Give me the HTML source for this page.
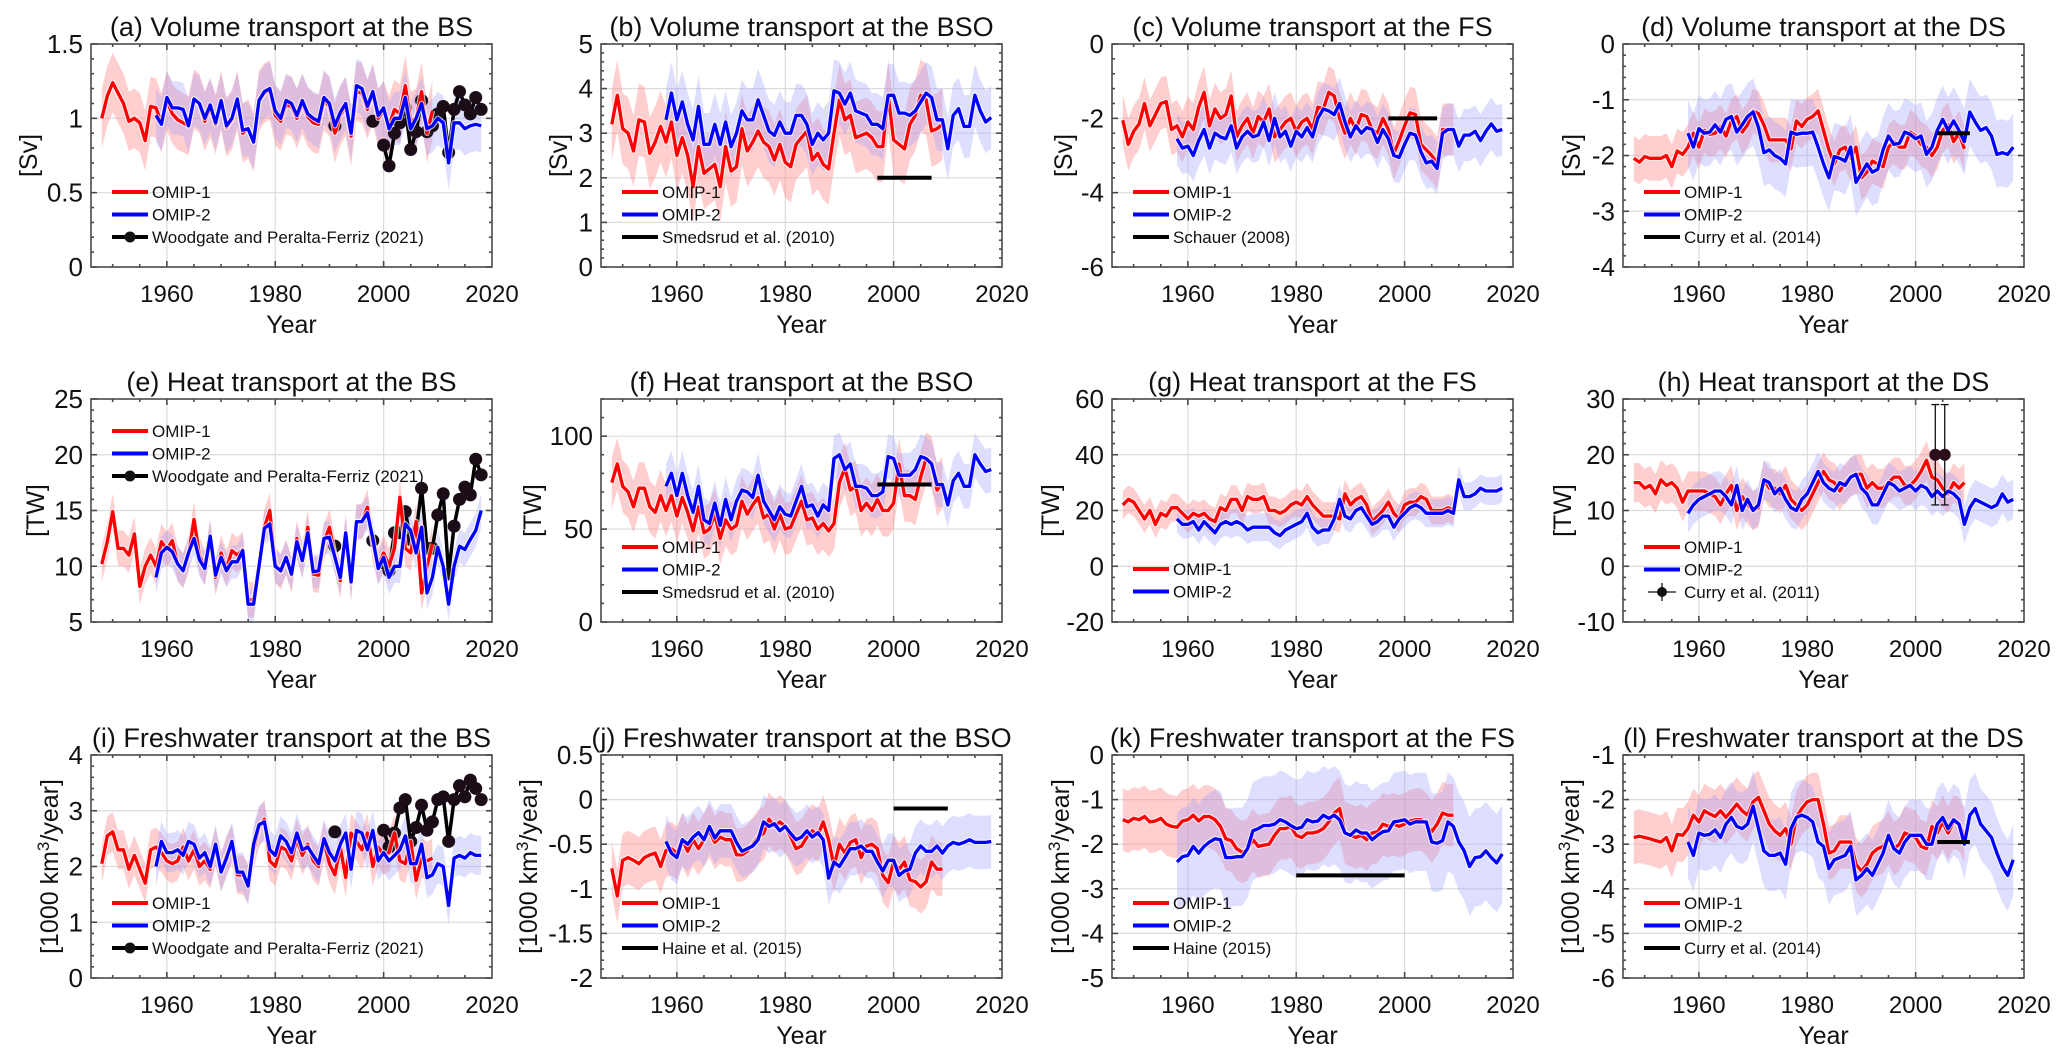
<!DOCTYPE html>
<html><head><meta charset="utf-8"><style>
html,body{margin:0;padding:0;background:#fff;}
svg{display:block;font-family:"Liberation Sans",Arial,sans-serif;}
</style></head><body>
<svg id="fig" width="2067" height="1063" viewBox="0 0 2067 1063" xmlns="http://www.w3.org/2000/svg"></svg>
<script>
// ---------- data ----------
const xTicks = [1960, 1980, 2000, 2020];
const omip1Start = 1948;
const omip2Start = 1958;

const aO1 = [1.0,1.15,1.24,1.17,1.1,0.98,1.0,0.97,0.85,1.08,1.07,0.97,1.12,1.03,0.99,0.97,0.95,1.13,1.1,0.98,1.07,0.96,1.12,0.94,0.99,1.12,0.9,0.93,0.84,1.12,1.17,1.19,1.02,0.98,1.09,1.08,1.0,1.1,1.01,0.97,0.96,1.12,1.08,0.9,1.02,1.08,0.88,1.18,1.17,1.06,1.17,1.0,1.05,0.95,1.06,1.03,1.22,0.98,1.0,1.18,0.9,1.05];
const aO2 = [1.02,0.96,1.14,1.07,1.07,1.06,0.95,1.13,1.1,1.0,1.09,0.97,1.12,0.95,1.0,1.13,0.92,0.93,0.84,1.12,1.18,1.2,1.05,1.0,1.12,1.1,1.02,1.12,1.03,1.0,0.98,1.14,1.1,0.95,1.04,1.1,0.9,1.22,1.2,1.08,1.18,1.02,1.07,0.93,1.0,1.0,1.14,0.93,1.0,1.1,0.93,0.95,1.0,0.97,0.7,0.97,0.97,0.93,0.95,0.96,0.95];
const aObsYears = [1991,1998,2000,2001,2002,2003,2004,2005,2006,2007,2008,2009,2010,2011,2012,2013,2014,2015,2016,2017,2018];
const aObsVals = [0.95,0.98,0.82,0.68,0.9,0.97,1.07,0.79,0.91,1.12,0.91,0.95,1.03,1.08,0.77,1.06,1.18,1.09,1.03,1.14,1.06];
const aTicks = [0, 0.5, 1, 1.5];

const bO1 = [3.2,3.85,3.1,3.0,2.6,3.3,3.25,2.55,2.8,3.15,2.8,3.25,2.5,2.9,2.5,1.8,2.7,2.1,2.2,2.3,1.8,2.7,2.15,2.25,3.1,2.6,2.8,3.05,2.8,2.7,2.4,2.75,2.35,2.25,2.75,2.9,3.05,2.4,2.55,2.3,2.2,3.0,3.75,3.3,3.4,2.9,2.95,3.0,2.9,2.7,2.7,3.85,2.85,2.75,2.65,3.2,3.4,3.85,3.75,3.05,3.1,3.2];
const bO2 = [3.3,3.9,3.3,3.7,3.2,2.85,3.6,2.75,2.75,3.2,2.75,3.25,2.7,3.0,3.5,3.3,3.3,3.75,3.4,3.05,2.95,3.25,3.0,3.0,3.4,3.4,3.2,2.75,3.0,2.85,3.0,3.95,3.9,3.65,3.9,3.5,3.45,3.4,3.2,3.2,3.1,3.85,3.85,3.45,3.45,3.4,3.5,3.7,3.9,3.8,3.3,3.3,2.65,3.4,3.55,3.15,3.15,3.85,3.5,3.25,3.35];
const bObsSpan = [1997, 2007]; const bObsVal = 2.0;
const bTicks = [0, 1, 2, 3, 4, 5];

const cO1 = [-2.05,-2.7,-2.35,-2.15,-1.6,-2.2,-1.9,-1.6,-1.55,-2.3,-2.2,-2.5,-2.1,-2.3,-1.7,-1.3,-2.2,-1.75,-2.0,-1.9,-1.4,-2.5,-2.2,-2.0,-2.4,-1.95,-2.1,-1.75,-2.5,-2.3,-2.1,-2.0,-2.35,-2.1,-2.0,-2.3,-1.7,-1.75,-1.3,-1.4,-2.0,-2.4,-2.0,-2.3,-1.9,-1.95,-2.3,-2.4,-2.0,-2.3,-2.95,-2.6,-2.2,-1.85,-1.9,-2.7,-2.85,-3.0,-3.2,-2.3,-2.3,-2.3];
const cO2 = [-2.55,-2.8,-2.75,-3.0,-2.6,-2.3,-2.8,-2.4,-2.5,-2.55,-2.2,-2.8,-2.5,-2.35,-2.5,-2.45,-2.1,-2.6,-2.0,-2.5,-2.35,-2.75,-2.35,-2.5,-2.25,-2.5,-2.0,-1.75,-1.8,-1.9,-1.6,-2.1,-2.5,-2.2,-2.4,-2.25,-2.3,-2.65,-2.3,-2.55,-3.0,-3.05,-2.7,-2.4,-2.45,-2.9,-3.2,-3.15,-3.35,-2.4,-2.3,-2.3,-2.75,-2.45,-2.45,-2.35,-2.6,-2.35,-2.15,-2.35,-2.3];
const cObsSpan = [1997, 2006]; const cObsVal = -2.0;
const cTicks = [-6, -4, -2, 0];

const dO1 = [-2.05,-2.12,-2.02,-2.05,-2.05,-2.05,-2.0,-2.2,-1.92,-1.98,-1.85,-1.6,-1.85,-1.55,-1.62,-1.6,-1.48,-1.65,-1.38,-1.3,-1.58,-1.45,-1.2,-1.25,-1.45,-1.72,-1.72,-1.72,-1.72,-1.88,-1.38,-1.48,-1.35,-1.3,-1.2,-1.55,-1.9,-2.15,-1.9,-1.85,-2.05,-1.85,-2.4,-2.3,-2.1,-2.15,-2.2,-1.85,-1.75,-1.85,-1.85,-1.58,-1.65,-1.8,-1.85,-2.0,-1.85,-1.55,-1.45,-1.75,-1.6,-1.88];
const dO2 = [-1.6,-1.85,-1.52,-1.6,-1.58,-1.45,-1.58,-1.35,-1.3,-1.58,-1.45,-1.3,-1.22,-1.5,-1.95,-1.9,-2.0,-2.05,-2.15,-1.58,-1.62,-1.6,-1.6,-1.58,-1.85,-2.15,-2.4,-2.02,-2.05,-2.1,-1.85,-2.48,-2.32,-2.15,-2.3,-2.25,-1.9,-1.65,-1.8,-1.78,-1.58,-1.62,-1.7,-1.65,-1.98,-1.85,-1.55,-1.35,-1.55,-1.38,-1.55,-1.75,-1.22,-1.4,-1.55,-1.5,-1.65,-1.98,-1.95,-1.98,-1.85];
const dObsSpan = [2004, 2010]; const dObsVal = -1.6;
const dTicks = [-4, -3, -2, -1, 0];

const eO1 = [10.2,12.2,14.9,11.6,11.6,11.0,12.9,8.2,10.0,11.0,10.0,12.2,11.5,12.3,10.2,9.6,11.0,14.2,11.0,9.9,12.4,9.0,11.2,9.8,11.4,11.0,11.5,7.0,7.0,10.0,13.5,15.0,10.2,9.5,10.8,9.2,12.5,10.5,13.5,9.3,9.2,12.2,13.5,11.0,8.7,13.0,8.5,14.0,14.0,15.3,12.0,10.0,11.2,10.0,11.6,16.2,11.6,11.2,14.0,7.6,10.0,12.0];
const eO2 = [9.0,11.2,11.7,11.3,10.2,9.6,11.2,12.5,10.6,9.8,12.7,9.2,10.8,9.6,10.4,10.4,11.4,6.6,6.6,10.0,13.4,13.8,10.0,9.6,10.8,9.3,12.2,10.5,13.0,9.5,9.6,12.5,12.6,10.8,9.0,13.0,8.6,14.0,14.0,14.8,12.5,9.8,10.8,9.0,10.0,10.0,13.8,13.2,11.2,13.5,7.6,9.0,11.7,10.0,6.6,10.0,11.8,11.5,12.4,13.2,15.0];
const eObsYears = [1991,1998,2000,2001,2002,2003,2004,2005,2006,2007,2008,2009,2010,2011,2012,2013,2014,2015,2016,2017,2018];
const eObsVals = [11.8,12.3,10.3,9.6,13.0,13.0,14.9,12.4,13.0,17.0,11.6,11.6,14.6,16.5,9.3,13.6,16.0,17.1,16.4,19.6,18.2];
const eTicks = [5, 10, 15, 20, 25];

const fO1 = [75,85,73,70,62,72,72,62,59,68,60,68,57,67,59,49,62,48,50,58,45,55,50,52,65,58,63,67,56,58,50,58,50,51,58,65,55,56,50,53,49,53,75,83,71,73,60,64,60,66,60,60,64,85,68,68,66,78,88,86,71,75];
const fO2 = [73,80,68,80,68,59,73,55,53,64,52,66,55,65,71,70,67,79,65,60,55,62,58,57,65,73,62,63,57,63,60,88,90,82,85,73,73,72,68,68,70,89,88,79,79,79,82,89,88,85,74,74,63,76,80,73,73,90,85,81,82];
const fObsSpan = [1997, 2007]; const fObsVal = 74;
const fTicks = [0, 50, 100];

const gO1 = [22,24,23,20,17,20,15,19,18,21,21,19,17,19,18,19,17,16,21,20,24,24,20,25,24,24,25,20,20,19,20,22,23,22,25,22,20,18,18,18,17,26,22,24,25,22,16,18,20,23,19,17,22,23,23,25,24,20,20,20,21,20];
const gO2 = [17,15,15,16,13,16,14,12,15,16,15,16,15,13,14,14,14,14,12,11,13,14,15,16,19,14,12,13,13,17,24,18,17,20,21,18,15,16,18,18,14,17,19,21,22,21,19,19,19,19,20,19,31,25,25,26,28,27,27,27,28];
const gTicks = [-20, 0, 20, 40, 60];

const hO1 = [15,15,14,14.5,13,15.5,14.5,15,14,11.5,13.5,13.5,13.5,13.5,13,12.5,11,13,14.5,10,12.5,11,10,10.5,15.5,14,14,13,14.5,12,11,10,11,13,15,17,15.5,15,13.5,15,16,16.5,16.5,14,15,14,14,15,16,16,14.5,14.5,15.5,17,19,16,15.5,14,13,15,14,15];
const hO2 = [9.5,11,12,12.5,13,13.5,13.5,12.5,11,14.5,10,12,10,11,15.5,15,13,14,12,10.5,10,12,13,15,17,15,14,13.5,15,14.5,16,16.5,14,13,11,11,13,15,14.5,13.5,14,14.5,13.5,14.5,14,12.5,13.5,12.5,13.5,13,12,7.5,10.5,12,11.5,11,10.5,11,13,11.5,12];
const hObsYears = [2004, 2005];
const hObsVals = [20, 20];
const hObsErr = [9, 9];
const hTicks = [-10, 0, 10, 20, 30];

const iO1 = [2.05,2.55,2.62,2.3,2.3,1.95,2.2,1.95,1.7,2.3,2.35,2.25,2.1,2.05,2.1,2.35,2.1,2.3,2.0,2.1,1.95,2.35,1.9,2.2,2.4,1.85,1.85,1.7,2.3,2.7,2.85,2.1,2.0,2.35,2.3,2.1,2.5,2.2,2.4,2.1,2.0,2.45,2.05,1.85,2.35,1.8,2.6,2.45,2.3,2.6,2.0,2.35,2.2,2.25,2.6,2.1,2.05,2.45,1.75,2.15,2.1,2.15];
const iO2 = [2.0,2.45,2.25,2.25,2.3,2.2,2.45,2.4,2.15,2.25,2.0,2.4,1.9,2.15,2.45,1.9,1.9,1.65,2.4,2.75,2.8,2.3,2.2,2.55,2.45,2.25,2.6,2.3,2.35,2.2,2.05,2.5,2.25,2.1,2.4,2.6,1.95,2.65,2.6,2.3,2.65,2.1,2.25,2.1,2.2,2.3,2.55,2.05,2.05,2.4,1.8,1.85,2.05,2.0,1.3,2.15,2.2,2.15,2.25,2.2,2.2];
const iObsYears = [1991,2000,2001,2002,2003,2004,2005,2006,2007,2008,2009,2010,2011,2012,2013,2014,2015,2016,2017,2018];
const iObsVals = [2.62,2.65,2.35,2.6,3.05,3.2,2.45,2.7,3.1,2.65,2.8,3.2,3.25,2.45,3.2,3.45,3.25,3.55,3.4,3.2];
const iTicks = [0, 1, 2, 3, 4];

const jO1 = [-0.77,-1.08,-0.68,-0.65,-0.68,-0.72,-0.65,-0.62,-0.6,-0.75,-0.57,-0.55,-0.6,-0.45,-0.58,-0.45,-0.55,-0.45,-0.35,-0.48,-0.42,-0.45,-0.45,-0.62,-0.62,-0.58,-0.5,-0.42,-0.38,-0.22,-0.3,-0.25,-0.3,-0.42,-0.55,-0.52,-0.42,-0.35,-0.4,-0.25,-0.45,-0.75,-0.5,-0.6,-0.48,-0.45,-0.65,-0.52,-0.5,-0.55,-0.85,-0.93,-0.7,-0.78,-0.7,-0.9,-0.92,-0.98,-0.92,-0.7,-0.78,-0.78];
const jO2 = [-0.47,-0.6,-0.65,-0.45,-0.5,-0.42,-0.37,-0.45,-0.3,-0.43,-0.35,-0.35,-0.35,-0.48,-0.58,-0.55,-0.52,-0.45,-0.25,-0.3,-0.27,-0.35,-0.3,-0.38,-0.45,-0.42,-0.35,-0.42,-0.37,-0.45,-0.88,-0.7,-0.75,-0.65,-0.55,-0.55,-0.52,-0.58,-0.58,-0.7,-0.8,-0.68,-0.68,-0.85,-0.8,-0.78,-0.6,-0.52,-0.58,-0.58,-0.52,-0.6,-0.52,-0.48,-0.5,-0.48,-0.45,-0.48,-0.48,-0.48,-0.47];
const jObsSpan = [2000, 2010]; const jObsVal = -0.1;
const jTicks = [-2, -1.5, -1, -0.5, 0, 0.5];

const kO1 = [-1.45,-1.5,-1.42,-1.45,-1.38,-1.5,-1.48,-1.42,-1.55,-1.6,-1.62,-1.48,-1.45,-1.35,-1.48,-1.38,-1.38,-1.45,-1.6,-1.88,-1.92,-2.1,-2.18,-2.12,-1.9,-2.05,-2.02,-2.0,-1.8,-1.65,-1.65,-1.6,-1.8,-1.85,-1.75,-1.75,-1.72,-1.65,-1.5,-1.3,-1.2,-1.75,-1.8,-1.85,-1.8,-1.9,-1.75,-1.72,-1.55,-1.6,-1.55,-1.6,-1.55,-1.48,-1.45,-1.45,-1.55,-1.72,-1.55,-1.3,-1.35,-1.35];
const kO2 = [-2.4,-2.28,-2.25,-2.05,-2.2,-2.05,-1.95,-1.88,-1.9,-2.3,-2.3,-2.28,-2.28,-2.1,-1.7,-1.65,-1.58,-1.58,-1.55,-1.45,-1.5,-1.58,-1.65,-1.62,-1.45,-1.5,-1.48,-1.35,-1.42,-1.35,-1.45,-1.75,-1.8,-1.68,-1.75,-1.75,-1.9,-1.8,-1.72,-1.7,-1.5,-1.48,-1.45,-1.55,-1.5,-1.5,-1.5,-1.95,-1.98,-1.92,-1.5,-1.6,-1.95,-2.15,-2.5,-2.3,-2.28,-2.15,-2.3,-2.42,-2.22];
const kObsSpan = [1980, 2000]; const kObsVal = -2.7;
const kTicks = [-5, -4, -3, -2, -1, 0];

const lO1 = [-2.85,-2.82,-2.85,-2.88,-2.92,-2.95,-2.85,-3.15,-2.78,-2.8,-2.65,-2.35,-2.5,-2.25,-2.32,-2.38,-2.25,-2.4,-2.25,-2.1,-2.25,-2.35,-2.05,-1.95,-2.25,-2.55,-2.7,-2.8,-2.65,-3.0,-2.4,-2.2,-2.05,-2.0,-2.0,-2.55,-3.2,-3.15,-2.95,-2.95,-2.95,-3.45,-3.6,-3.45,-3.2,-3.1,-3.05,-2.85,-3.1,-3.0,-2.75,-2.8,-2.85,-3.05,-3.1,-2.6,-2.75,-2.5,-2.75,-2.5,-2.55,-2.8];
const lO2 = [-2.95,-3.25,-2.75,-2.8,-2.78,-2.68,-2.85,-2.55,-2.4,-2.6,-2.65,-2.55,-2.15,-2.65,-3.15,-3.25,-3.25,-3.2,-3.45,-2.65,-2.4,-2.35,-2.4,-2.5,-2.95,-3.05,-3.55,-3.35,-3.3,-3.25,-3.05,-3.8,-3.7,-3.55,-3.7,-3.45,-3.2,-2.8,-3.1,-3.2,-2.95,-2.8,-2.8,-2.8,-3.0,-3.0,-2.55,-2.4,-2.65,-2.45,-2.55,-3.0,-2.35,-2.2,-2.55,-2.7,-2.85,-3.2,-3.5,-3.7,-3.35];
const lObsSpan = [2004, 2010]; const lObsVal = -2.95;
const lTicks = [-6, -5, -4, -3, -2, -1];

// ensemble spread (half-width) per panel: [OMIP-1, OMIP-2]
const spreadA = [0.2, 0.18], spreadB = [0.8, 0.7], spreadC = [0.7, 0.7], spreadD = [0.4, 0.6];
const spreadE = [1.6, 1.5], spreadF = [14, 12], spreadG = [5, 5], spreadH = [3.5, 3.5];
const spreadI = [0.35, 0.35], spreadJ = [0.3, 0.3], spreadK = [0.7, 1.1], spreadL = [0.6, 0.8];

// ---------- layout ----------
const NS = "http://www.w3.org/2000/svg";
const svg = document.getElementById('fig');
const colL = [91, 601, 1112, 1623], rowT = [44, 399, 755];
const PW = 401, PH = 223, XMIN = 1946, XMAX = 2020;
const FW = ['[1000 km', '3', '/year]'];

const panels = [
 {k:'a',title:'(a) Volume transport at the BS',c:0,r:0,t:aTicks,o1:aO1,o2:aO2,sp:spreadA,yl:'[Sv]',yo:62,leg:148,obs:{type:'pts',yrs:aObsYears,v:aObsVals,label:'Woodgate and Peralta-Ferriz (2021)'}},
 {k:'b',title:'(b) Volume transport at the BSO',c:1,r:0,t:bTicks,o1:bO1,o2:bO2,sp:spreadB,yl:'[Sv]',yo:42,leg:148,obs:{type:'span',span:bObsSpan,v:bObsVal,label:'Smedsrud et al. (2010)'}},
 {k:'c',title:'(c) Volume transport at the FS',c:2,r:0,t:cTicks,o1:cO1,o2:cO2,sp:spreadC,yl:'[Sv]',yo:48,leg:148,obs:{type:'span',span:cObsSpan,v:cObsVal,label:'Schauer (2008)'}},
 {k:'d',title:'(d) Volume transport at the DS',c:3,r:0,t:dTicks,o1:dO1,o2:dO2,sp:spreadD,yl:'[Sv]',yo:51,leg:148,obs:{type:'span',span:dObsSpan,v:dObsVal,label:'Curry et al. (2014)'}},
 {k:'e',title:'(e) Heat transport at the BS',c:0,r:1,t:eTicks,o1:eO1,o2:eO2,sp:spreadE,yl:'[TW]',yo:55,leg:32,obs:{type:'pts',yrs:eObsYears,v:eObsVals,label:'Woodgate and Peralta-Ferriz (2021)'}},
 {k:'f',title:'(f) Heat transport at the BSO',c:1,r:1,t:fTicks,ymax:120,o1:fO1,o2:fO2,sp:spreadF,yl:'[TW]',yo:68,leg:148,obs:{type:'span',span:fObsSpan,v:fObsVal,label:'Smedsrud et al. (2010)'}},
 {k:'g',title:'(g) Heat transport at the FS',c:2,r:1,t:gTicks,o1:gO1,o2:gO2,sp:spreadG,yl:'[TW]',yo:61,leg:170,obs:null},
 {k:'h',title:'(h) Heat transport at the DS',c:3,r:1,t:hTicks,o1:hO1,o2:hO2,sp:spreadH,yl:'[TW]',yo:60,leg:148,obs:{type:'err',yrs:hObsYears,v:hObsVals,e:hObsErr,label:'Curry et al. (2011)'}},
 {k:'i',title:'(i) Freshwater transport at the BS',c:0,r:2,t:iTicks,o1:iO1,o2:iO2,sp:spreadI,yl:FW,yo:41,leg:148,obs:{type:'pts',yrs:iObsYears,v:iObsVals,label:'Woodgate and Peralta-Ferriz (2021)'}},
 {k:'j',title:'(j) Freshwater transport at the BSO',c:1,r:2,t:jTicks,o1:jO1,o2:jO2,sp:spreadJ,yl:FW,yo:72,leg:148,obs:{type:'span',span:jObsSpan,v:jObsVal,label:'Haine et al. (2015)'}},
 {k:'k',title:'(k) Freshwater transport at the FS',c:2,r:2,t:kTicks,o1:kO1,o2:kO2,sp:spreadK,yl:FW,yo:51,leg:148,obs:{type:'span',span:kObsSpan,v:kObsVal,label:'Haine (2015)'}},
 {k:'l',title:'(l) Freshwater transport at the DS',c:3,r:2,t:lTicks,o1:lO1,o2:lO2,sp:spreadL,yl:FW,yo:52,leg:148,obs:{type:'span',span:lObsSpan,v:lObsVal,label:'Curry et al. (2014)'}}
];

function mk(tag, attrs, parent){
  const e = document.createElementNS(NS, tag);
  for (const a in attrs) e.setAttribute(a, attrs[a]);
  parent.appendChild(e);
  return e;
}

panels.forEach(p => {
  const L = colL[p.c], T = rowT[p.r], R = L + PW, B = T + PH;
  const ymin = p.t[0], ymax = (p.ymax !== undefined) ? p.ymax : p.t[p.t.length-1];
  const sx = yr => L + (yr - XMIN) / (XMAX - XMIN) * PW;
  const sy = v => T + (ymax - v) / (ymax - ymin) * PH;

  const g = mk('g', {}, svg);
  
  

  const clip = mk('clipPath', {id: 'clip-' + p.k}, g);
  mk('rect', {x: L, y: T, width: PW, height: PH}, clip);

  const grid = mk('g', {stroke: '#dcdcdc', 'stroke-width': 1.2}, g);
  
  
  xTicks.forEach(x => { if (x < XMAX) mk('line', {x1: sx(x), x2: sx(x), y1: T, y2: B}, grid); });
  p.t.forEach(v => { if (v > ymin && v < ymax) mk('line', {x1: L, x2: R, y1: sy(v), y2: sy(v)}, grid); });

  const plot = mk('g', {'clip-path': 'url(#clip-' + p.k + ')'}, g);

  function band(vals, start, spr, color, op, name){
    let up = '', lo = '';
    vals.forEach((v, i) => { up += (i ? 'L' : 'M') + sx(start + i).toFixed(1) + ',' + sy(v + spr).toFixed(1); });
    for (let i = vals.length - 1; i >= 0; i--) lo += 'L' + sx(start + i).toFixed(1) + ',' + sy(vals[i] - spr).toFixed(1);
    const b = mk('path', {d: up + lo + 'Z', fill: color, 'fill-opacity': op, stroke: 'none'}, plot);
    
    
  }
  band(p.o1, omip1Start, p.sp[0], '#ff8a8a', 0.42, 'omip1-spread-' + p.k);
  band(p.o2, omip2Start, p.sp[1], '#9a9aff', 0.33, 'omip2-spread-' + p.k);

  const obsG = mk('g', {}, plot);
  
  
  if (p.obs && p.obs.type === 'pts') {
    let d = '';
    p.obs.yrs.forEach((yr, i) => {
      const cont = i > 0 && yr - p.obs.yrs[i-1] === 1;
      d += (cont ? 'L' : 'M') + sx(yr).toFixed(1) + ',' + sy(p.obs.v[i]).toFixed(1);
    });
    mk('path', {d: d, fill: 'none', stroke: '#000', 'stroke-width': 3.5, 'stroke-linejoin': 'round'}, obsG);
    p.obs.yrs.forEach((yr, i) => {
      const c = mk('circle', {cx: sx(yr), cy: sy(p.obs.v[i]), r: 6.5, fill: '#1a0d18'}, obsG);
      
      
    });
  }

  function line(vals, start, color, name){
    let d = '';
    vals.forEach((v, i) => { d += (i ? 'L' : 'M') + sx(start + i).toFixed(1) + ',' + sy(v).toFixed(1); });
    mk('path', {d: d, fill: 'none', stroke: '#fff', 'stroke-width': 5.5, 'stroke-opacity': 0.7, 'stroke-linejoin': 'round'}, plot);
    const ln = mk('path', {d: d, fill: 'none', stroke: color, 'stroke-width': 3.3, 'stroke-linejoin': 'round'}, plot);
    
    
  }
  line(p.o1, omip1Start, '#ff0000', 'omip1-line-' + p.k);
  line(p.o2, omip2Start, '#0000ff', 'omip2-line-' + p.k);

  if (p.obs && p.obs.type === 'span') {
    const s = mk('line', {x1: sx(p.obs.span[0]), x2: sx(p.obs.span[1]), y1: sy(p.obs.v), y2: sy(p.obs.v), stroke: '#000', 'stroke-width': 4}, plot);
    
    
  }
  if (p.obs && p.obs.type === 'err') {
    p.obs.yrs.forEach((yr, i) => {
      const x = sx(yr) + (i ? 2 : -2), v = p.obs.v[i], e = p.obs.e[i];
      mk('line', {x1: x, x2: x, y1: sy(v - e), y2: sy(v + e), stroke: '#111', 'stroke-width': 1.3}, plot);
      mk('line', {x1: x-4, x2: x+4, y1: sy(v - e), y2: sy(v - e), stroke: '#111', 'stroke-width': 1.3}, plot);
      mk('line', {x1: x-4, x2: x+4, y1: sy(v + e), y2: sy(v + e), stroke: '#111', 'stroke-width': 1.3}, plot);
      const c = mk('circle', {cx: x, cy: sy(v), r: 6, fill: '#2a0f1a'}, plot);
      
      
    });
  }

  const ax = mk('g', {stroke: '#4a4a4a', 'stroke-width': 1.6, fill: 'none'}, g);
  
  
  mk('rect', {x: L, y: T, width: PW, height: PH}, ax);
  for (let yr = 1950; yr < XMAX; yr += 5) {
    const len = (yr % 20 === 0) ? 6 : 3;
    mk('line', {x1: sx(yr), x2: sx(yr), y1: B, y2: B - len}, ax);
    mk('line', {x1: sx(yr), x2: sx(yr), y1: T, y2: T + len}, ax);
  }
  const step = (p.t[1] - p.t[0]) / 5;
  for (let v = ymin; v <= ymax + 1e-9; v += step) {
    const major = p.t.some(t => Math.abs(t - v) < 1e-6);
    const len = major ? 6 : 3;
    mk('line', {x1: L, x2: L + len, y1: sy(v), y2: sy(v)}, ax);
    mk('line', {x1: R, x2: R - len, y1: sy(v), y2: sy(v)}, ax);
  }

  xTicks.forEach(x => {
    const t = mk('text', {x: sx(x), y: B + 35, 'font-size': 24, 'text-anchor': 'middle', fill: '#111'}, g);
    t.textContent = String(x);
    
    
  });
  p.t.forEach(v => {
    const t = mk('text', {x: L - 8, y: sy(v) + 9, 'font-size': 26, 'text-anchor': 'end', fill: '#111'}, g);
    t.textContent = String(v);
    
    
  });

  const tt = mk('text', {x: L + PW/2, y: T - 8, 'font-size': 27, 'text-anchor': 'middle', fill: '#111'}, g);
  tt.textContent = p.title;
  
  

  const xl = mk('text', {x: L + PW/2, y: B + 66, 'font-size': 25, 'text-anchor': 'middle', fill: '#111'}, g);
  xl.textContent = 'Year';
  
  

  const cx = L - p.yo, cy = T + PH/2;
  const yl = mk('text', {x: cx, y: cy + 8, 'font-size': 25, 'text-anchor': 'middle', fill: '#111', transform: 'rotate(-90 ' + cx + ' ' + (cy) + ')'}, g);
  
  
  if (Array.isArray(p.yl)) {
    const s1 = mk('tspan', {}, yl); s1.textContent = p.yl[0];
    const s2 = mk('tspan', {'baseline-shift': 'super', 'font-size': 17}, yl); s2.textContent = p.yl[1];
    const s3 = mk('tspan', {}, yl); s3.textContent = p.yl[2];
  } else yl.textContent = p.yl;

  const lg = mk('g', {}, g);
  
  
  const entries = [['OMIP-1', '#ff0000', null], ['OMIP-2', '#0000ff', null]];
  if (p.obs) entries.push([p.obs.label, '#000', p.obs.type]);
  entries.forEach((en, i) => {
    const y = T + p.leg + i * 22.5;
    const x0 = L + 21, x1 = L + 57;
    const eg = mk('g', {}, lg);
    
    
    if (en[2] === 'err') {
      mk('line', {x1: x0 + 4, x2: x1 - 4, y1: y, y2: y, stroke: '#111', 'stroke-width': 1.3}, eg);
      mk('line', {x1: (x0+x1)/2, x2: (x0+x1)/2, y1: y - 9, y2: y + 9, stroke: '#111', 'stroke-width': 1.3}, eg);
      mk('circle', {cx: (x0+x1)/2, cy: y, r: 5, fill: '#111'}, eg);
    } else {
      mk('line', {x1: x0, x2: x1, y1: y, y2: y, stroke: en[1], 'stroke-width': 4}, eg);
      if (en[2] === 'pts') mk('circle', {cx: (x0+x1)/2, cy: y, r: 5.5, fill: '#111'}, eg);
    }
    const tx = mk('text', {x: x1 + 4, y: y + 6, 'font-size': 17, fill: '#111'}, eg);
    tx.textContent = en[0];
  });
});
</script>
</body></html>
